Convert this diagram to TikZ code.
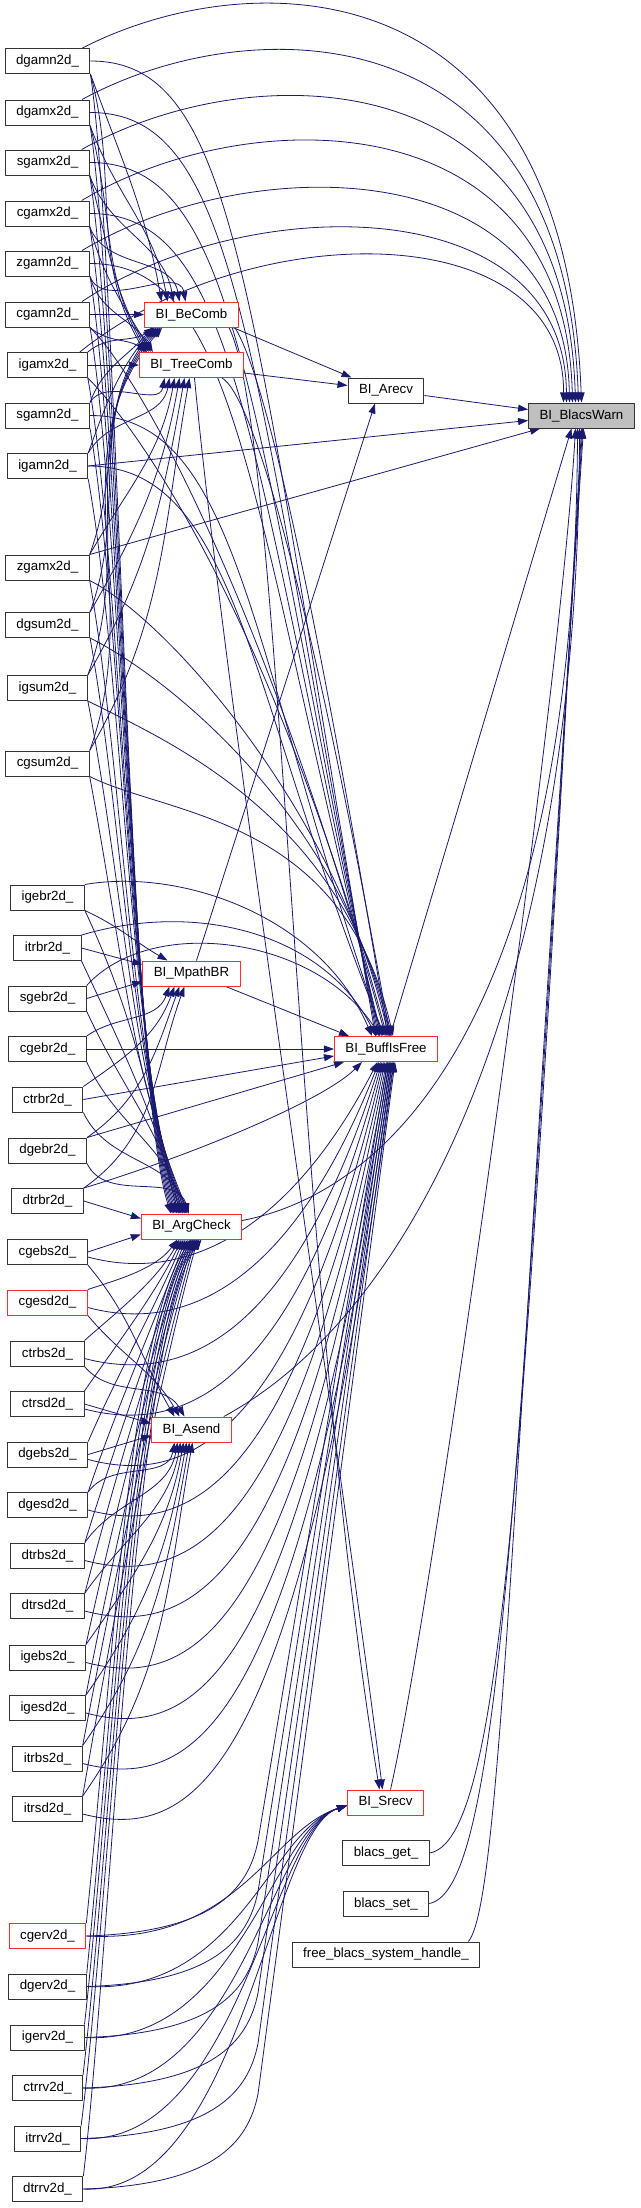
\documentclass[tikz,border=0pt]{standalone}
\usepackage{fontspec}
\setmainfont{Liberation Sans}
\usetikzlibrary{arrows.meta,backgrounds}
\definecolor{cgnavy}{RGB}{25,25,112}
\definecolor{cgred}{RGB}{250,45,45}
\tikzset{
  every picture/.append style={line cap=round,line join=round},
  cg fn/.style={draw=black!80,line width=1pt,fill=white,font=\fontsize{13.3}{16}\selectfont,
    inner xsep=11pt,inner ysep=0pt,minimum height=25pt},
  cg trunc/.style={cg fn,draw=cgred},
  cg root/.style={cg fn,fill=black!25},
  cg call/.style={cgnavy,line width=0.8pt,-{Triangle[length=10pt,width=7pt]}}
}
\begin{document}
\begin{tikzpicture}[x=1pt,y=-1pt]
  \useasboundingbox (0,0) rectangle (640,2208);
  \foreach \n/\y in {dgamn2d/61,dgamx2d/112.5,sgamx2d/162.5,cgamx2d/213.5,zgamn2d/263.5,
      cgamn2d/314.5,igamx2d/365,sgamn2d/415.5,igamn2d/466,zgamx2d/567.5,dgsum2d/625,
      igsum2d/688,cgsum2d/763.5,igebr2d/897.5,itrbr2d/948,sgebr2d/998.5,cgebr2d/1049,
      ctrbr2d/1099.5,dgebr2d/1150.5,dtrbr2d/1201,cgebs2d/1252,ctrbs2d/1353.5,ctrsd2d/1404,
      dgebs2d/1454.5,dgesd2d/1505,dtrbs2d/1555.5,dtrsd2d/1606,igebs2d/1657.5,igesd2d/1708,
      itrbs2d/1758.5,itrsd2d/1809,dgerv2d/1986.5,igerv2d/2037.5,ctrrv2d/2088,itrrv2d/2138.5,
      dtrrv2d/2189}
    \node[cg fn] (\n) at (47.5,\y) {\n\_};
  \node[cg trunc] (cgesd2d) at (47.5,1302.5) {cgesd2d\_};
  \node[cg trunc] (cgerv2d) at (47.5,1936) {cgerv2d\_};
  \foreach \n/\y in {BeComb/314.5,TreeComb/365,MpathBR/973.5,ArgCheck/1226.5,Asend/1429.5}
    \node[cg trunc] (\n) at (191.5,\y) {BI\_\n};
  \node[cg fn] (Arecv) at (386,390.5) {BI\_Arecv};
  \node[cg trunc] (BuffIsFree) at (386,1049) {BI\_BuffIsFree};
  \node[cg trunc] (Srecv) at (385.5,1802.5) {BI\_Srecv};
  \node[cg fn] (blacsget) at (386,1853) {blacs\_get\_};
  \node[cg fn] (blacsset) at (386,1903.5) {blacs\_set\_};
  \node[cg fn] (freehandle) at (386,1954.5) {free\_blacs\_system\_handle\_};
  \node[cg root] (BlacsWarn) at (581.5,415.5) {BI\_BlacsWarn};
  \begin{scope}[on background layer]
    \fill[white] (0,0) rectangle (640,2208);
    % combine callers
    \foreach \n [count=\i] in {dgamn2d,dgamx2d,sgamx2d,cgamx2d,zgamn2d} {
      \draw[cg call] (\n.south east) to[out=-70,in=100] ([xshift=\i*6pt-36pt]BeComb.north);
      \draw[cg call] (\n.south east) to[out=-75,in=120] ([xshift=\i*2pt+4pt]TreeComb.north west);
    }
    \draw[cg call] (cgamn2d.east) -- (BeComb.west);
    \draw[cg call] (cgamn2d.south east) to[out=-40,in=145] ([xshift=8pt]TreeComb.north west);
    \draw[cg call] (igamx2d.east) -- (TreeComb.west);
    \draw[cg call] (igamx2d.north east) to[out=40,in=-145] ([xshift=10pt]BeComb.south west);
    \foreach \n [count=\i] in {sgamn2d,igamn2d,zgamx2d,dgsum2d,igsum2d,cgsum2d} {
      \draw[cg call] (\n.north east) to[out=70,in=-130] ([xshift=\i*2pt+6pt]BeComb.south west);
      \draw[cg call] (\n.north east) to[out=60,in=-100] ([xshift=\i*5pt-32pt]TreeComb.south);
    }
    \foreach \n/\q/\d in {dgamn2d/-38/0,dgamx2d/8/-3,sgamx2d/55/-6,cgamx2d/100/-9,
        zgamn2d/150/-12,cgamn2d/190/-15,igamx2d/215/-18}
      \draw[cg call] ([xshift=-8pt]\n.north east) .. controls (250,\q) and (565,\q) .. ([xshift=\d*1pt]BlacsWarn.north);
    \draw[cg call] (igamn2d.east) -- ([yshift=-5pt]BlacsWarn.west);
    \draw[cg call] (zgamx2d.north east) -- ([xshift=12pt]BlacsWarn.south west);
    \foreach \n/\y [count=\i] in {dgamn2d/61,dgamx2d/112.5,sgamx2d/162.5,cgamx2d/213.5,
        zgamn2d/263.5,sgamn2d/415.5,igamn2d/466}
      \draw[cg call] (\n.east) .. controls (238,\y) and (248,\y+230) .. ([xshift=\i*1.5pt-12pt]BuffIsFree.north);
    \foreach \n [count=\i] in {cgamn2d,igamx2d}
      \draw[cg call] (\n.south east) .. controls +(60,60) and +(-110,-400) .. ([xshift=\i*1.5pt-2pt]BuffIsFree.north);
    \foreach \n [count=\i] in {zgamx2d,dgsum2d,igsum2d,cgsum2d}
      \draw[cg call] (\n.south east) .. controls +(80,40) and +(-50,-220) .. ([xshift=\i*1.5pt+1pt]BuffIsFree.north);
    \foreach \n/\y [count=\i] in {dgamn2d/61,dgamx2d/112.5,sgamx2d/162.5,cgamx2d/213.5,
        zgamn2d/263.5,cgamn2d/314.5,igamx2d/365,sgamn2d/415.5,igamn2d/466,zgamx2d/567.5,
        dgsum2d/625,igsum2d/688,cgsum2d/763.5}
      \draw[cg call] (\n.south east) .. controls (118+\i*0.5,\y+200) and (127+\i*0.4,1080) .. ([xshift=\i*1.5pt-22pt]ArgCheck.north);
    % broadcast receive
    \draw[cg call] (igebr2d.south east) to[out=-25,in=150] ([xshift=-24pt]MpathBR.north);
    \draw[cg call] (itrbr2d.east) -- ([yshift=9pt]MpathBR.west);
    \draw[cg call] (sgebr2d.east) -- ([yshift=-8pt]MpathBR.west);
    \foreach \n [count=\i] in {cgebr2d,ctrbr2d,dgebr2d,dtrbr2d}
      \draw[cg call] (\n.north east) to[out=35,in=-110] ([xshift=\i*5pt-27pt]MpathBR.south);
    \foreach \n [count=\i] in {igebr2d,itrbr2d,sgebr2d,cgebr2d,ctrbr2d,dgebr2d}
      \draw[cg call] (\n.south east) to[out=-65,in=105] ([xshift=\i*2pt-15pt]ArgCheck.north);
    \draw[cg call] (dtrbr2d.east) -- ([yshift=8pt]ArgCheck.west);
    \draw[cg call] (igebr2d.north east) .. controls (180,868) and (320,915) .. ([xshift=-14pt]BuffIsFree.north);
    \draw[cg call] (itrbr2d.north east) .. controls (200,900) and (325,935) .. ([xshift=-10pt]BuffIsFree.north);
    \draw[cg call] (sgebr2d.north east) .. controls (150,915) and (315,935) .. ([xshift=-6pt]BuffIsFree.north);
    \draw[cg call] (cgebr2d.east) -- (BuffIsFree.west);
    \draw[cg call] (ctrbr2d.east) -- ([yshift=-7pt]BuffIsFree.west);
    \draw[cg call] (dgebr2d.north east) -- ([xshift=10pt]BuffIsFree.south west);
    \draw[cg call] (dtrbr2d.north east) .. controls +(100,-30) and +(-40,40) .. ([xshift=-24pt]BuffIsFree.south);
    % broadcast and point to point send
    \draw[cg call] (cgebs2d.east) -- ([yshift=-8pt]ArgCheck.west);
    \foreach \n/\y [count=\i] in {cgesd2d/1302.5,ctrbs2d/1353.5,ctrsd2d/1404,dgebs2d/1454.5,
        dgesd2d/1505,dtrbs2d/1555.5,dtrsd2d/1606,igebs2d/1657.5,igesd2d/1708,itrbs2d/1758.5,itrsd2d/1809}
      \draw[cg call] (\n.north east) .. controls (115,{\y-0.35*(\y-1239)}) and (155,{1254+0.25*(\y-1239)}) .. ([xshift=\i*2pt-16pt]ArgCheck.south);
    \foreach \n [count=\i] in {cgebs2d,cgesd2d,ctrbs2d}
      \draw[cg call] (\n.south east) to[out=-50,in=120] ([xshift=\i*5pt-22pt]Asend.north);
    \draw[cg call] (ctrsd2d.east) -- ([yshift=6pt]Asend.west);
    \draw[cg call] (dgebs2d.east) -- ([yshift=-6pt]Asend.west);
    \foreach \n [count=\i] in {dgesd2d,dtrbs2d,dtrsd2d,igebs2d,igesd2d,itrbs2d,itrsd2d}
      \draw[cg call] (\n.north east) to[out=55,in=-100] ([xshift=\i*3pt-20pt]Asend.south);
    \foreach \n/\y [count=\i] in {cgebs2d/1252,cgesd2d/1302.5,ctrbs2d/1353.5,ctrsd2d/1404,
        dgebs2d/1454.5,dgesd2d/1505,dtrbs2d/1555.5,dtrsd2d/1606,igebs2d/1657.5,igesd2d/1708,
        itrbs2d/1758.5,itrsd2d/1809}
      \draw[cg call] ([yshift=-5pt]\n.east) .. controls (200,\y+35) and (300,\y-40) .. ([xshift=\i*1.5pt-10pt]BuffIsFree.south);
    % point to point receive
    \foreach \n/\y [count=\i] in {cgerv2d/1936,dgerv2d/1986.5,igerv2d/2037.5,ctrrv2d/2088,
        itrrv2d/2138.5,dtrrv2d/2189} {
      \draw[cg call] (\n.north east) .. controls (112,\y-260) and (128+\i,1330) .. ([xshift=\i*2pt-2pt]ArgCheck.south);
      \draw[cg call] (\n.east) .. controls (240,\y+8) and (270,1830) .. ([yshift=-3pt]Srecv.west);
      \draw[cg call] (\n.east) .. controls (212,\y-4) and (248,\y-45) .. (258,\y-95) -- ([xshift=\i*1.5pt]BuffIsFree.south);
    }
    % internal routines
    \draw[cg call] ([xshift=-6pt]BeComb.south east) -- ([xshift=4pt]Arecv.north west);
    \draw[cg call] ([yshift=-8pt]TreeComb.east) -- ([yshift=5pt]Arecv.west);
    \draw[cg call] ([yshift=-5pt]Arecv.east) -- ([yshift=6pt]BlacsWarn.west);
    \draw[cg call] ([xshift=5pt]MpathBR.north) -- ([xshift=-11pt]Arecv.south);
    \draw[cg call] ([xshift=-15pt]MpathBR.south east) -- ([xshift=15pt]BuffIsFree.north west);
    \draw[cg call] ([xshift=-4pt]BeComb.south east) .. controls +(15,25) and +(-100,-600) .. ([xshift=2pt]BuffIsFree.north);
    \draw[cg call] ([xshift=-22pt]TreeComb.south east) .. controls +(25,15) and +(-90,-500) .. ([xshift=4pt]BuffIsFree.north);
    \draw[cg call] ([xshift=-10pt]BeComb.south east) .. controls (282,430) and (292,1250) .. ([xshift=-6pt]Srecv.north);
    \draw[cg call] ([xshift=3pt]TreeComb.south) .. controls (225,700) and (340,1450) .. ([xshift=-3pt]Srecv.north);
    \draw[cg call] ([yshift=6pt]ArgCheck.east) .. controls (400,1190) and (575,1000) .. ([xshift=-4pt]BlacsWarn.south);
    \draw[cg call] ([xshift=-8pt]Asend.north east) .. controls (420,1310) and (578,980) .. ([xshift=-2pt]BlacsWarn.south);
    \draw[cg call] ([xshift=4pt]BuffIsFree.north) -- ([xshift=-10pt]BlacsWarn.south);
    \draw[cg call] ([xshift=5pt]Srecv.north) .. controls (430,1620) and (560,700) .. ([xshift=-6pt]BlacsWarn.south);
    \draw[cg call] (blacsget.east) .. controls (500,1840) and (522,1500) .. (BlacsWarn.south);
    \draw[cg call] (blacsset.east) .. controls (500,1890) and (517,1500) .. ([xshift=1pt]BlacsWarn.south);
    \draw[cg call] ([xshift=-12pt]freehandle.north east) .. controls (500,1905) and (512,1500) .. ([xshift=2pt]BlacsWarn.south);
  \end{scope}
\end{tikzpicture}
\end{document}
